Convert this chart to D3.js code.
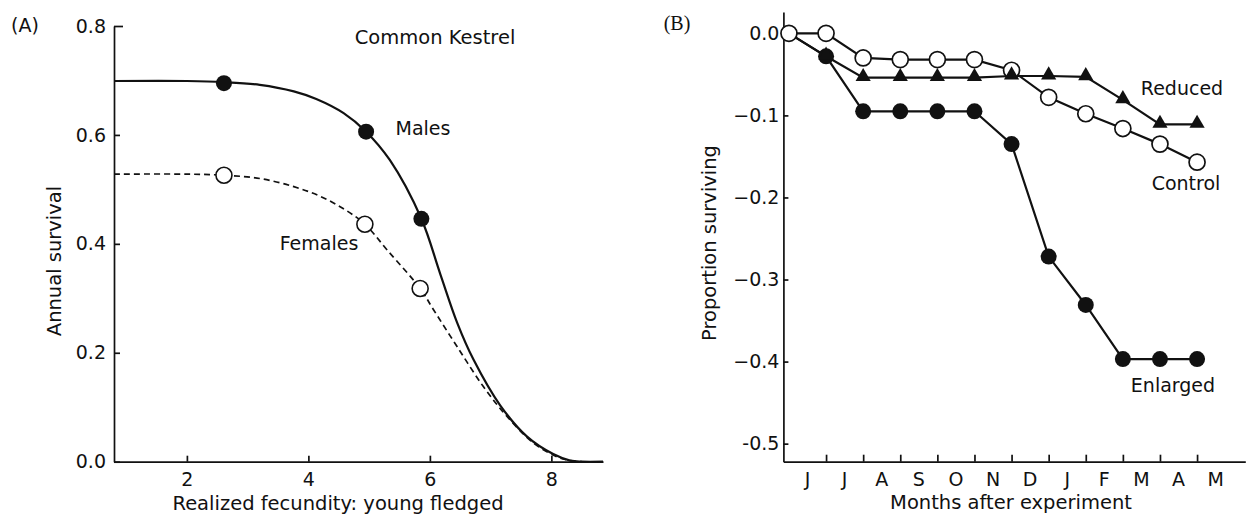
<!DOCTYPE html>
<html><head><meta charset="utf-8">
<script src="https://cdn.jsdelivr.net/npm/d3@7"></script>
<style>
body{margin:0;background:#fff}
svg{display:block;background:#fff}
</style>
</head><body>
<svg id="chart" width="1248" height="516"></svg>
<script>
// ---------- Panel A data ----------
const aXTicks = [2, 4, 6, 8];
const aYTicks = [0, 0.2, 0.4, 0.6, 0.8];
const aYTickLabels = ["0.0", "0.2", "0.4", "0.6", "0.8"];
const maleCurveX = [0.8, 2.0, 2.61, 3.2, 3.76, 4.13, 4.58, 4.95, 5.34, 5.86, 6.17, 6.45, 6.72, 7.16, 7.6, 8.03, 8.31, 8.5, 8.85];
const maleCurveY = [0.699, 0.699, 0.697, 0.692, 0.680, 0.666, 0.640, 0.606, 0.554, 0.446, 0.345, 0.255, 0.187, 0.103, 0.046, 0.014, 0.002, 0, 0];
const femaleCurveX = [0.8, 2.0, 2.61, 3.2, 3.76, 4.2, 4.6, 4.93, 5.31, 5.84, 6.06, 6.45, 6.88, 7.27, 7.71, 8.09, 8.31, 8.5];
const femaleCurveY = [0.528, 0.528, 0.526, 0.52, 0.505, 0.487, 0.463, 0.436, 0.387, 0.318, 0.279, 0.211, 0.138, 0.083, 0.034, 0.009, 0.002, 0];
const malePointX = [2.61, 4.95, 5.86];
const malePointY = [0.695, 0.606, 0.446];
const femalePointX = [2.61, 4.93, 5.84];
const femalePointY = [0.526, 0.436, 0.318];

// ---------- Panel B data ----------
const months = ["J", "J", "A", "S", "O", "N", "D", "J", "F", "M", "A", "M"];
const control  = [0, 0, -0.030, -0.032, -0.032, -0.032, -0.045, -0.078, -0.098, -0.116, -0.135, -0.157];
const reduced  = [0, -0.028, -0.054, -0.054, -0.054, -0.054, -0.052, -0.052, -0.053, -0.081, -0.111, -0.111];
const enlarged = [0, -0.028, -0.095, -0.095, -0.095, -0.095, -0.135, -0.272, -0.331, -0.397, -0.397, -0.397];
const bYTicks = [0, -0.1, -0.2, -0.3, -0.4, -0.5];
const bYTickLabels = ["0.0", "\u22120.1", "\u22120.2", "\u22120.3", "\u22120.4", "-0.5"];
const bXTicks = [1, 2, 3, 4, 5, 6, 7, 8, 9, 10, 11];

const svg = d3.select("#chart");
const FONT = "'DejaVu Sans', sans-serif";
const FS = 19;
const INK = "#111";

function styleAxis(g, size, family) {
  g.selectAll("path.domain").attr("stroke", INK).attr("stroke-width", 1.7);
  g.selectAll(".tick line").attr("stroke", INK).attr("stroke-width", 1.7);
  g.selectAll(".tick text").attr("fill", INK).attr("font-size", size).attr("font-family", family || FONT);
  g.attr("font-family", family || FONT);
}

// ================= Panel A =================
const xA = d3.scaleLinear().domain([0.8, 8.85]).range([114, 603]);
const yA = d3.scaleLinear().domain([0, 0.8]).range([461.7, 26]);

const gAx = svg.append("g").attr("transform", `translate(0,${yA(0)})`)
  .call(d3.axisBottom(xA).tickValues(aXTicks).tickFormat(d3.format("d")).tickSize(-6).tickSizeOuter(0).tickPadding(11));
styleAxis(gAx, FS);
const gAy = svg.append("g").attr("transform", `translate(${xA(0.8)},0)`)
  .call(d3.axisLeft(yA).tickValues(aYTicks).tickFormat((d, i) => aYTickLabels[i]).tickSize(-6).tickSizeOuter(0).tickPadding(8));
styleAxis(gAy, FS);
gAy.selectAll(".tick").filter(d => d === 0.8).select("line").attr("x2", 9);

const lineA = d3.line().x(d => xA(d[0])).y(d => yA(d[1])).curve(d3.curveCatmullRom.alpha(0.5));
svg.append("path").datum(femaleCurveX.map((x, i) => [x, femaleCurveY[i]]))
  .attr("d", lineA).attr("fill", "none").attr("stroke", INK).attr("stroke-width", 1.7).attr("stroke-dasharray", "6,4");
svg.append("path").datum(maleCurveX.map((x, i) => [x, maleCurveY[i]]))
  .attr("d", lineA).attr("fill", "none").attr("stroke", INK).attr("stroke-width", 2.2);

svg.append("g").selectAll("circle").data(malePointX).join("circle")
  .attr("cx", d => xA(d)).attr("cy", (d, i) => yA(malePointY[i])).attr("r", 8).attr("fill", INK);
svg.append("g").selectAll("circle").data(femalePointX).join("circle")
  .attr("cx", d => xA(d)).attr("cy", (d, i) => yA(femalePointY[i])).attr("r", 8)
  .attr("fill", "#fff").attr("stroke", INK).attr("stroke-width", 1.6);

function label(x, y, txt, opts = {}) {
  const t = svg.append("text").attr("x", x).attr("y", y).text(txt)
    .attr("font-family", opts.family || FONT).attr("font-size", opts.size || FS)
    .attr("fill", INK).attr("text-anchor", opts.anchor || "middle");
  if (opts.rotate) t.attr("transform", `rotate(-90,${x},${y})`);
  return t;
}
label(25, 32, "(A)", {size: 19});
label(435, 44, "Common Kestrel", {size: 19.5});
label(423, 135, "Males");
label(319, 250, "Females");
label(338, 510, "Realized fecundity: young fledged", {size: 19.5});
label(61, 261, "Annual survival", {rotate: true, size: 19.5});

// ================= Panel B =================
const xB = d3.scaleLinear().domain([-0.15, 12.3]).range([783.4, 1245.3]);
const yB = d3.scaleLinear().domain([-0.522, 0.026]).range([461.7, 12]);

const gBx = svg.append("g").attr("transform", `translate(0,${yB(-0.522)})`)
  .call(d3.axisBottom(xB).tickValues(bXTicks).tickFormat("").tickSize(-7).tickSizeOuter(0));
styleAxis(gBx, FS);
const gBy = svg.append("g").attr("transform", `translate(${xB(-0.15)},0)`)
  .call(d3.axisLeft(yB).tickValues(bYTicks).tickFormat((d, i) => bYTickLabels[i]).tickSize(-5).tickSizeOuter(0).tickPadding(4));
styleAxis(gBy, FS);

svg.append("g").selectAll("text").data(months).join("text")
  .attr("x", (d, i) => xB(i + 0.5)).attr("y", 486).text(d => d)
  .attr("font-family", FONT).attr("font-size", FS).attr("fill", INK).attr("text-anchor", "middle");

const lineB = d3.line().x((d, i) => xB(i)).y(d => yB(d));
[enlarged, control, reduced].forEach(s => {
  svg.append("path").datum(s).attr("d", lineB).attr("fill", "none").attr("stroke", INK).attr("stroke-width", 2.2);
});
svg.append("g").selectAll("circle").data(enlarged).join("circle")
  .attr("cx", (d, i) => xB(i)).attr("cy", d => yB(d)).attr("r", 8).attr("fill", INK);
svg.append("g").selectAll("circle").data(control).join("circle")
  .attr("cx", (d, i) => xB(i)).attr("cy", d => yB(d)).attr("r", 8)
  .attr("fill", "#fff").attr("stroke", INK).attr("stroke-width", 1.7);
const tri = d3.symbol().type(d3.symbolTriangle).size(100);
svg.append("g").selectAll("path").data(reduced).join("path")
  .filter((d, i) => i > 0)
  .attr("d", tri).attr("transform", (d, i) => `translate(${xB(i + 1)},${yB(d) - 1})`).attr("fill", INK);

label(677, 30, "(B)", {size: 20, family: "'Liberation Serif', serif"});
label(1182, 95, "Reduced");
label(1186, 190, "Control");
label(1173, 392, "Enlarged");
label(1011, 509, "Months after experiment", {size: 19.5});
label(716, 243, "Proportion surviving", {rotate: true, size: 19.5});
</script>
</body></html>
